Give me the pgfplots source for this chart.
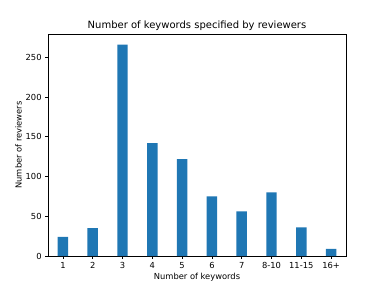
\documentclass[border=0pt]{standalone}
\usepackage{pgfplots}
\pgfplotsset{compat=1.18}
\usepackage{fontspec}
\setmainfont{DejaVu Sans}
\definecolor{mplblue}{HTML}{1F77B4}
\begin{document}
\begin{tikzpicture}
\path[use as bounding box] (-48bp,-32bp) rectangle (336bp,256bp);
\begin{axis}[
  at={(0,0)}, anchor=south west,
  scale only axis, width=298bp, height=222bp,
  xmin=-0.5, xmax=9.5, ymin=0, ymax=279.3,
  xtick={0,...,9},
  xticklabels={1,2,3,4,5,6,7,8-10,11-15,16+},
  ytick={0,50,100,150,200,250},
  tick align=outside, tick pos=left,
  major tick length=2.9bp,
  every tick/.style={black, line width=0.67bp},
  axis line style={line width=0.67bp},
  /pgf/number format/assume math mode=true,
  tick label style={font=\fontsize{8.33bp}{10bp}\selectfont},
  label style={font=\fontsize{8.33bp}{10bp}\selectfont},
  title style={font=\fontsize{10bp}{12bp}\selectfont, yshift=-6bp},
  title={Number of keywords specified by reviewers},
  xlabel={Number of keywords},
  ylabel={Number of reviewers},
  xlabel style={yshift=2bp},
  ylabel style={yshift=-3bp},
]
\addplot[ybar, bar width=0.35, fill=mplblue, draw=none] coordinates {
(0,24) (1,35) (2,266) (3,142) (4,122) (5,75) (6,56) (7,80) (8,36) (9,9)
};
\end{axis}
\end{tikzpicture}
\end{document}
